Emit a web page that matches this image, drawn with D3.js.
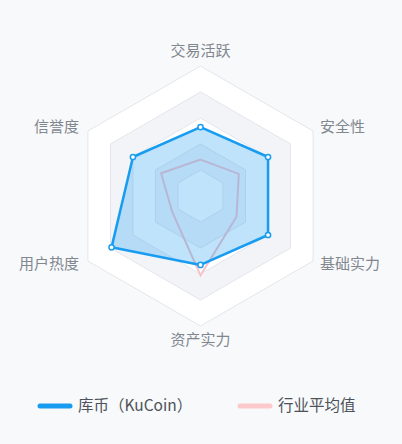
<!DOCTYPE html>
<html>
<head>
<meta charset="utf-8">
<script src="https://cdn.jsdelivr.net/npm/d3@7"></script>
<style>
  html, body { margin: 0; padding: 0; background: #f8f9fb; }
  svg { display: block; font-family: "Noto Sans CJK SC", "Noto Sans", sans-serif; }
</style>
</head>
<body>
<div class="chart"></div>
<script>
// indicators, clockwise from the top
var indicators = ["交易活跃", "安全性", "基础实力", "资产实力", "用户热度", "信誉度"];
var kucoin = [53, 60, 60, 53, 79, 60];
var industry = [28, 34, 32, 61, 25, 35];
var seriesNames = ["库币（KuCoin）", "行业平均值"];
var maxValue = 100;
var levels = 5;

var width = 402, height = 444;
var cx = 200.5, cy = 196, radius = 130;

var svg = d3.select(".chart").append("svg")
    .attr("width", width)
    .attr("height", height);

var r = d3.scaleLinear().domain([0, maxValue]).range([0, radius]);
var angle = d3.scaleLinear().domain([0, indicators.length]).range([0, 2 * Math.PI]);

function pt(i, v) {
  var a = angle(i);
  return [cx + r(v) * Math.sin(a), cy - r(v) * Math.cos(a)];
}

var line = d3.line().curve(d3.curveLinearClosed);

// split areas, outer first
var bandColors = ["#ffffff", "#f3f4f8"];
d3.range(levels, 0, -1).forEach(function(l) {
  var v = maxValue * l / levels;
  svg.append("path")
    .attr("d", line(indicators.map(function(d, i) { return pt(i, v); })))
    .attr("fill", bandColors[(levels - l) % 2])
    .attr("stroke", "#e4e6eb")
    .attr("stroke-width", 1);
});

// industry average
svg.append("path")
  .attr("d", line(industry.map(function(v, i) { return pt(i, v); })))
  .attr("fill", "none")
  .attr("stroke", "#f6c3c8")
  .attr("stroke-width", 2);

// kucoin
svg.append("path")
  .attr("d", line(kucoin.map(function(v, i) { return pt(i, v); })))
  .attr("fill", "rgba(24,156,240,0.28)")
  .attr("stroke", "#189cf0")
  .attr("stroke-width", 2.5)
  .attr("stroke-linejoin", "round");

svg.selectAll("circle.dot")
  .data(kucoin)
  .enter()
  .append("circle")
  .attr("class", "dot")
  .attr("cx", function(d, i) { return pt(i, d)[0]; })
  .attr("cy", function(d, i) { return pt(i, d)[1]; })
  .attr("r", 2.6)
  .attr("fill", "#fff")
  .attr("stroke", "#189cf0")
  .attr("stroke-width", 1.5);

// indicator names
svg.selectAll("text.axis")
  .data(indicators)
  .enter()
  .append("text")
  .attr("class", "axis")
  .attr("x", function(d, i) {
    var p = pt(i, maxValue);
    var s = Math.sin(angle(i));
    return p[0] + (s > 0.1 ? 7 : s < -0.1 ? -9 : 0);
  })
  .attr("y", function(d, i) {
    var p = pt(i, maxValue);
    var c = Math.cos(angle(i));
    if (c > 0.9) return p[1] - 15;
    if (c < -0.9) return p[1] + 14;
    return p[1] + (c > 0 ? -4 : 3);
  })
  .attr("dy", "0.35em")
  .attr("text-anchor", function(d, i) {
    var s = Math.sin(angle(i));
    return s > 0.1 ? "start" : s < -0.1 ? "end" : "middle";
  })
  .style("font-size", "15px")
  .style("fill", "#80878f")
  .text(function(d) { return d; });

// legend
var legendColors = ["#189cf0", "#fcc9cd"];
var legendX = [38, 238];
var legend = svg.selectAll("g.legend")
  .data(seriesNames)
  .enter()
  .append("g")
  .attr("class", "legend")
  .attr("transform", function(d, i) { return "translate(" + legendX[i] + ",406)"; });

legend.append("line")
  .attr("x1", 2).attr("x2", 32)
  .attr("stroke", function(d, i) { return legendColors[i]; })
  .attr("stroke-width", 5)
  .attr("stroke-linecap", "round");

legend.append("text")
  .attr("x", 40)
  .attr("dy", "0.35em")
  .style("font-size", "15.5px")
  .style("fill", "#4d5259")
  .text(function(d) { return d; });
</script>
</body>
</html>
